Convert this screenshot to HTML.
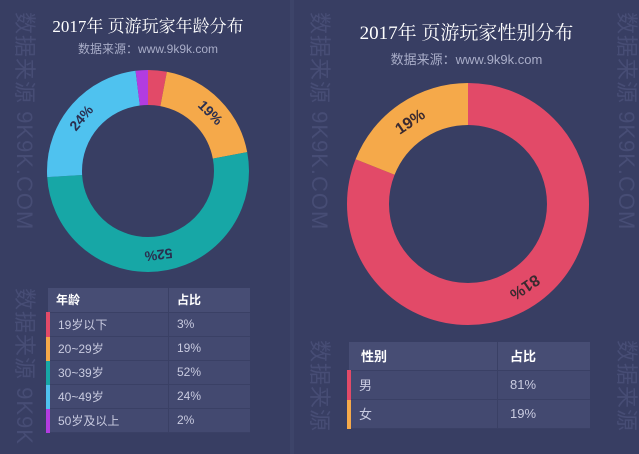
<!DOCTYPE html>
<html style="overflow:hidden;width:639px;height:454px"><head><meta charset="utf-8"><style>
body{margin:0;width:639px;height:454px;background:#383e63;overflow:hidden;font-family:"Liberation Sans","Noto Sans CJK SC",sans-serif;position:relative}
.t{position:absolute;white-space:nowrap;text-align:center}
.wm{position:absolute;writing-mode:vertical-rl;text-orientation:sideways;color:#474d75;font-size:22px;letter-spacing:1px;white-space:nowrap}
table{position:absolute;border-collapse:collapse;color:#c9cbe0}
td{border-bottom:1px solid #3a4065;padding:0 0 0 8px}
td.c2{border-left:1px solid #3a4065}
tr.h td{color:#fff;font-weight:bold;background:#474d74}
tr.r td{background:#434970}
</style></head><body>
<div class="wm" style="left:10px;top:12px">数据来源 9K9K.COM</div>
<div class="wm" style="left:10px;top:288px">数据来源 9K9K</div>
<div class="wm" style="left:305px;top:12px">数据来源 9K9K.COM</div>
<div class="wm" style="left:305px;top:340px">数据来源</div>
<div class="wm" style="left:612px;top:12px">数据来源 9K9K.COM</div>
<div class="wm" style="left:612px;top:340px">数据来源</div>
<div style="position:absolute;left:290px;top:0;width:4px;height:454px;background:#3d4469"></div>

<div class="t" style="left:0;width:296px;top:12px;color:#fff;font-size:17px;font-family:'Liberation Serif','Noto Serif CJK SC',serif">2017年 页游玩家年龄分布</div>
<div class="t" style="left:0;width:296px;top:40px;color:#a9adc8;font-size:12px">数据来源：www.9k9k.com</div>
<div class="t" style="left:294px;width:345px;top:18px;color:#fff;font-size:19px;font-family:'Liberation Serif','Noto Serif CJK SC',serif">2017年 页游玩家性别分布</div>
<div class="t" style="left:294px;width:345px;top:49px;color:#a9adc8;font-size:13px">数据来源：www.9k9k.com</div>

<svg width="639" height="454" style="position:absolute;left:0;top:0">
<g transform="translate(148,171) rotate(-90)" fill="none" stroke-width="35">
<circle r="83.5" stroke="#e24a68" stroke-dasharray="15.7 600" stroke-dashoffset="0"/>
<circle r="83.5" stroke="#f5a94a" stroke-dasharray="99.7 600" stroke-dashoffset="-15.7"/>
<circle r="83.5" stroke="#17a7a6" stroke-dasharray="272.8 600" stroke-dashoffset="-115.4"/>
<circle r="83.5" stroke="#4fc2ef" stroke-dasharray="125.9 600" stroke-dashoffset="-388.2"/>
<circle r="83.5" stroke="#b23ce0" stroke-dasharray="10.5 600" stroke-dashoffset="-514.1"/>
</g>
<g font-size="14" font-weight="bold" fill="#2a2f50" text-anchor="middle" font-family="Liberation Sans">
<text transform="translate(207,116) rotate(45)">19%</text>
<text transform="translate(158,250) rotate(173)">52%</text>
<text transform="translate(85,121) rotate(-50)">24%</text>
</g>
<g transform="translate(468,204) rotate(-90)" fill="none" stroke-width="42">
<circle r="100" stroke="#e24a68" stroke-dasharray="508.9 700"/>
<circle r="100" stroke="#f5a94a" stroke-dasharray="119.4 700" stroke-dashoffset="-508.9"/>
</g>
<g font-size="16" font-weight="bold" fill="#3a2a30" text-anchor="middle" font-family="Liberation Sans">
<text transform="translate(413,126) rotate(-34)">19%</text>
<text transform="translate(522,283) rotate(146)">81%</text>
</g>
</svg>

<table style="left:46px;top:288px;width:204px;font-size:12px">
<tr class="h" style="height:24px"><td style="width:112px">年龄</td><td class="c2">占比</td></tr>
<tr class="r" style="height:24px"><td style="border-left:4px solid #e24a68">19岁以下</td><td class="c2">3%</td></tr>
<tr class="r" style="height:24px"><td style="border-left:4px solid #f5a94a">20~29岁</td><td class="c2">19%</td></tr>
<tr class="r" style="height:24px"><td style="border-left:4px solid #17a7a6">30~39岁</td><td class="c2">52%</td></tr>
<tr class="r" style="height:24px"><td style="border-left:4px solid #4fc2ef">40~49岁</td><td class="c2">24%</td></tr>
<tr class="r" style="height:24px"><td style="border-left:4px solid #b23ce0">50岁及以上</td><td class="c2">2%</td></tr>
</table>

<table style="left:347px;top:342px;width:243px;font-size:13px">
<tr class="h" style="height:28px"><td style="width:136px;padding-left:12px">性别</td><td class="c2" style="padding-left:12px">占比</td></tr>
<tr class="r" style="height:29px"><td style="border-left:4px solid #e24a68">男</td><td class="c2" style="padding-left:12px">81%</td></tr>
<tr class="r" style="height:29px"><td style="border-left:4px solid #f5a94a">女</td><td class="c2" style="padding-left:12px">19%</td></tr>
</table>
</body></html>
